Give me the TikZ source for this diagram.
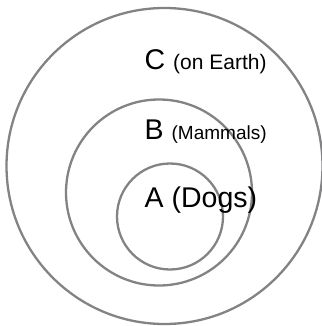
\documentclass[tikz,border=0pt]{standalone}
\usepackage{fontspec}
\setmainfont{Liberation Sans}
\usepackage{tikz}
\usetikzlibrary{positioning}
\definecolor{ringgray}{HTML}{838386}

\begin{document}
\begin{tikzpicture}[
        x=1pt, y=-1pt,
        set/.style={draw=ringgray, line width=2.3pt, circle, inner sep=0pt, outer sep=0pt},
        big/.style={anchor=base west, inner sep=0pt, font=\fontsize{28.5}{30}\selectfont}
    ]
        \useasboundingbox (0,0) rectangle (321,326);
        \node (setC) [set, minimum size=316pt] at (164.5,166) {};
        \node (setB) [set, minimum size=186pt] at (159,192.5) {};
        \node (setA) [set, minimum size=106pt] at (170,216.5) {};
        \node (labC) [big] at (144.5,70) {C {\fontsize{21}{22}\selectfont(on Earth)}};
        \node (labB) [big] at (144.5,139) {B {\fontsize{19}{21}\selectfont(Mammals)}};
        \node (labA) [big] at (144.5,207) {A (Dogs)};
    \end{tikzpicture}
\end{document}
